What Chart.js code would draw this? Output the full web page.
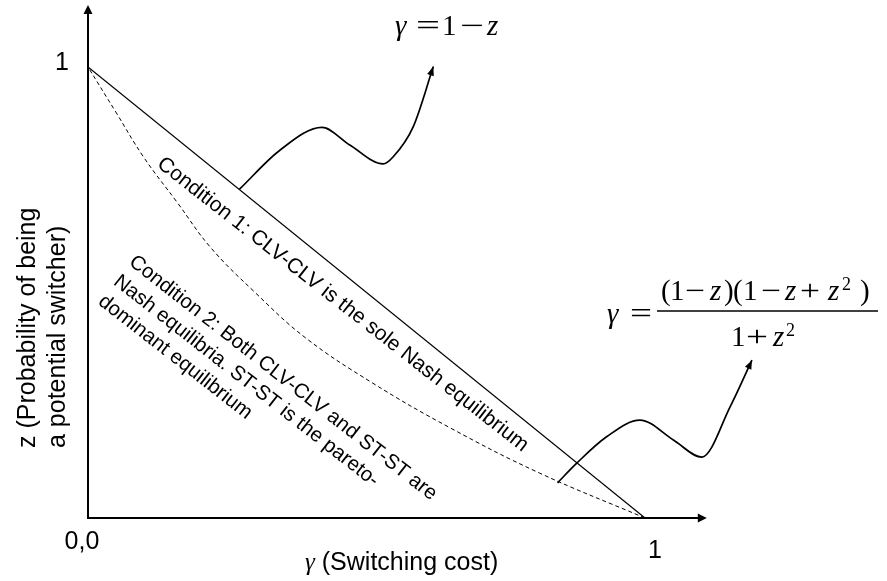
<!DOCTYPE html>
<html>
<head>
<meta charset="utf-8">
<script src="https://cdn.jsdelivr.net/npm/chart.js@4.4.0/dist/chart.umd.min.js"></script>
<style>
  html, body { margin: 0; padding: 0; background: #fff; }
  #wrap { width: 887px; height: 581px; }
</style>
</head>
<body>
<div id="wrap"><canvas id="chart" width="887" height="581"></canvas></div>
<script>
// Boundary gamma = 1 - z (solid line)
const solidGamma = [0, 1];
const solidZ = [1, 0];

// Boundary gamma = (1-z)(1-z+z^2)/(1+z^2) (dashed curve)
const dashZ =     [0, 0.1,  0.2,  0.3,  0.4,  0.5,  0.6,  0.7,  0.8,  0.9,  1];
const dashGamma = [1, 0.81, 0.65, 0.51, 0.39, 0.30, 0.22, 0.16, 0.10, 0.05, 0];

// Wavy pointer arrows from each boundary to its equation
const arrow1Gamma = [0.272, 0.345, 0.420, 0.470, 0.530, 0.548, 0.584, 0.620];
const arrow1Z =     [0.729, 0.816, 0.866, 0.827, 0.785, 0.801, 0.868, 1.001];
const arrow2Gamma = [0.843, 0.877, 0.931, 0.991, 1.051, 1.102, 1.153, 1.192];
const arrow2Z =     [0.078, 0.121, 0.180, 0.217, 0.173, 0.135, 0.247, 0.350];

// Scale extents; the axis arrows stop at xAxisEnd / yMax
const xMax = 1.25;
const yMax = 1.1375;
const xAxisEnd = 1.111;

const tickLabels = { origin: '0,0', x: '1', y: '1' };
const xTitle = ['\u03b3', ' (Switching cost)'];
const yTitle = ['z (Probability of being', 'a potential switcher)'];
const condition1 = 'Condition 1: CLV-CLV is the sole Nash equilibrium';
const condition2 = [
    'Condition 2: Both CLV-CLV and ST-ST are',
    'Nash equilibria. ST-ST is the pareto-',
    'dominant equilibrium'
];

const toPoints = (xs, ys) => xs.map((v, i) => ({ x: v, y: ys[i] }));

const SANS = '"Liberation Sans", Arial, sans-serif';
const SERIF = '"Liberation Serif", "Times New Roman", serif';

function arrowHead(ctx, tx, ty, ang, len, half) {
    ctx.save();
    ctx.translate(tx, ty);
    ctx.rotate(ang);
    ctx.beginPath();
    ctx.moveTo(0, 0);
    ctx.lineTo(-len, -half);
    ctx.lineTo(-len, half);
    ctx.closePath();
    ctx.fill();
    ctx.restore();
}

// each part: [text, left x, italic, superscript, stretched width]
function drawMath(ctx, parts, base, size) {
    parts.forEach(([t, px, it, sup, w]) => {
        const s = sup ? size * 0.62 : size;
        ctx.font = `${it ? 'italic ' : ''}${s}px ${SERIF}`;
        ctx.textAlign = 'left';
        ctx.textBaseline = 'alphabetic';
        const py = sup ? base - size * 0.36 : base;
        if (w) {
            const k = w / ctx.measureText(t).width;
            ctx.save();
            ctx.translate(px, py);
            ctx.scale(k, 1);
            ctx.fillText(t, 0, 0);
            ctx.restore();
        } else {
            ctx.fillText(t, px, py);
        }
    });
}

const decor = {
    id: 'decor',
    afterDatasetsDraw(chart) {
        const { ctx, chartArea: a, scales: { x, y } } = chart;
        const ox = x.getPixelForValue(0), oy = y.getPixelForValue(0);
        const xEnd = x.getPixelForValue(xAxisEnd);
        ctx.save();
        ctx.fillStyle = '#000';
        ctx.strokeStyle = '#000';

        // axes with arrow heads
        ctx.lineWidth = 2;
        ctx.beginPath();
        ctx.moveTo(ox, a.top + 6);
        ctx.lineTo(ox, oy);
        ctx.lineTo(xEnd - 6, oy);
        ctx.stroke();
        arrowHead(ctx, ox, a.top, -Math.PI / 2, 9, 4.5);
        arrowHead(ctx, xEnd, oy, 0, 9, 4.5);

        // heads on the wavy pointers
        [2, 3].forEach(i => {
            const pts = chart.getDatasetMeta(i).data;
            const p = pts[pts.length - 1];
            const q = (p.cp1x !== undefined) ? { x: p.cp1x, y: p.cp1y } : pts[pts.length - 2];
            arrowHead(ctx, p.x, p.y, Math.atan2(p.y - q.y, p.x - q.x), 9, 3.5);
        });

        // tick labels
        ctx.font = `25px ${SANS}`;
        ctx.textAlign = 'center';
        ctx.textBaseline = 'middle';
        ctx.fillText(tickLabels.y, ox - 26, y.getPixelForValue(1) - 4);
        ctx.fillText(tickLabels.origin, ox - 6, oy + 24);
        ctx.fillText(tickLabels.x, x.getPixelForValue(1) + 10, oy + 33);

        // x title
        ctx.textBaseline = 'alphabetic';
        ctx.textAlign = 'left';
        ctx.font = `italic 25px ${SERIF}`;
        ctx.fillText(xTitle[0], 305, 570);
        const gw = ctx.measureText(xTitle[0]).width;
        ctx.font = `25px ${SANS}`;
        ctx.fillText(xTitle[1], 305 + gw, 570);

        // y title (rotated)
        ctx.save();
        ctx.translate(0, 448);
        ctx.rotate(-Math.PI / 2);
        ctx.fillText(yTitle[0], 0, 35);
        ctx.fillText(yTitle[1], 0, 65);
        ctx.restore();

        // region labels along the boundaries
        const ang = 38 * Math.PI / 180;
        ctx.save();
        ctx.font = `21px ${SANS}`;
        ctx.translate(156, 166);
        ctx.rotate(ang);
        ctx.fillText(condition1, 0, 0);
        ctx.restore();
        ctx.save();
        ctx.font = `20.5px ${SANS}`;
        ctx.translate(128, 264);
        ctx.rotate(ang);
        condition2.forEach((t, i) => ctx.fillText(t, 0, i * 25));
        ctx.restore();

        // equations
        drawMath(ctx, [
            ['\u03b3', 395, true], ['=', 416, false, false, 24], ['1', 442],
            ['\u2212', 460, false, false, 24], ['z', 487, true]
        ], 35, 29);
        drawMath(ctx, [['\u03b3', 607, true], ['=', 630, false, false, 22]], 323, 29);
        drawMath(ctx, [
            ['(', 661], ['1', 670], ['\u2212', 685, false, false, 20], ['z', 710, true], [')', 724],
            ['(', 733], ['1', 743], ['\u2212', 761, false, false, 20], ['z', 785, true],
            ['+', 800, false, false, 20], ['z', 828, true], ['2', 842, false, true], [')', 860]
        ], 300, 29);
        ctx.lineWidth = 1.3;
        ctx.beginPath();
        ctx.moveTo(657, 311);
        ctx.lineTo(878, 311);
        ctx.stroke();
        drawMath(ctx, [
            ['1', 731], ['+', 746, false, false, 22], ['z', 773, true], ['2', 786, false, true]
        ], 346, 29);

        ctx.restore();
    }
};

new Chart(document.getElementById('chart'), {
    type: 'scatter',
    data: {
        datasets: [
            {
                data: toPoints(solidGamma, solidZ),
                showLine: true, borderColor: '#000', borderWidth: 1.2, pointRadius: 0
            },
            {
                data: toPoints(dashGamma, dashZ),
                showLine: true, borderColor: '#000', borderWidth: 1, borderDash: [4, 3],
                pointRadius: 0, tension: 0.4
            },
            {
                data: toPoints(arrow1Gamma, arrow1Z),
                showLine: true, borderColor: '#000', borderWidth: 1.7, pointRadius: 0,
                cubicInterpolationMode: 'monotone', clip: false
            },
            {
                data: toPoints(arrow2Gamma, arrow2Z),
                showLine: true, borderColor: '#000', borderWidth: 1.7, pointRadius: 0,
                cubicInterpolationMode: 'monotone', clip: false
            }
        ]
    },
    options: {
        responsive: false,
        animation: false,
        devicePixelRatio: 1,
        layout: { padding: { left: 88, right: 102.75, top: 5, bottom: 63 } },
        scales: {
            x: { type: 'linear', min: 0, max: xMax, display: false },
            y: { type: 'linear', min: 0, max: yMax, display: false }
        },
        plugins: { legend: { display: false }, tooltip: { enabled: false } }
    },
    plugins: [decor]
});
</script>
</body>
</html>
